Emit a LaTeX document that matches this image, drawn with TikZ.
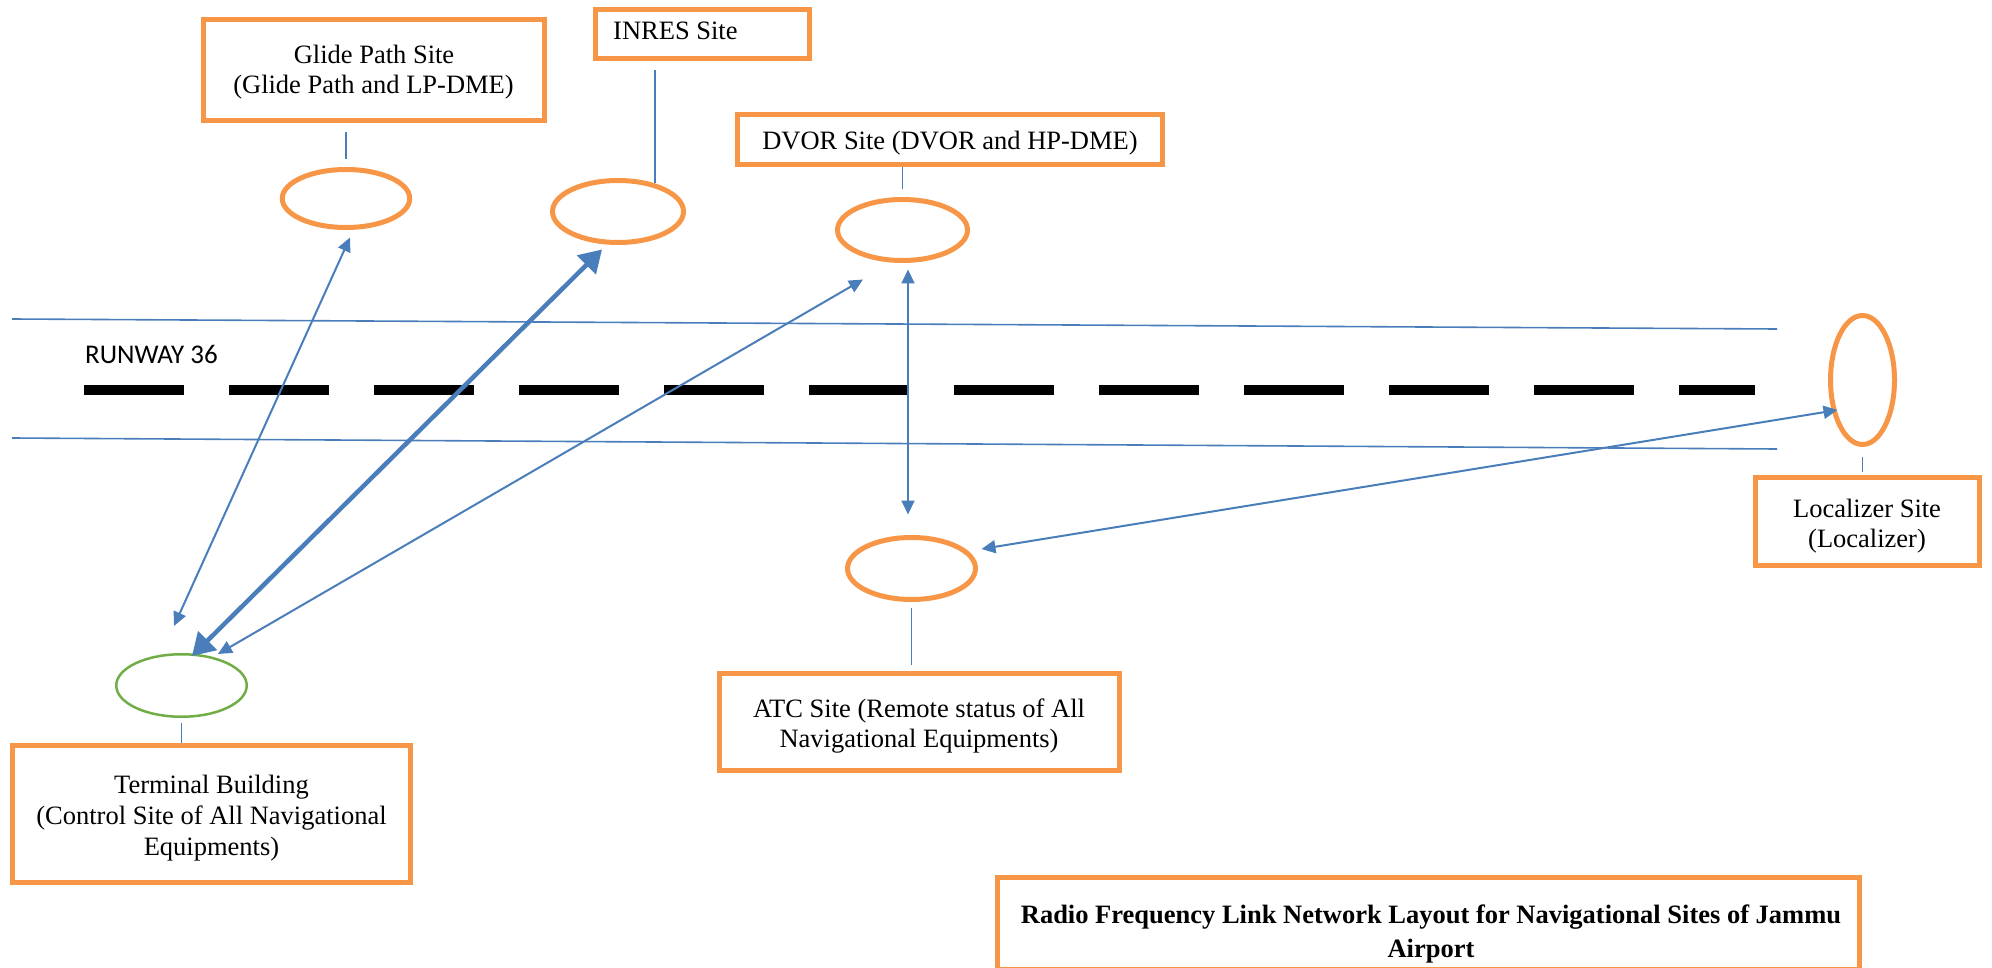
\documentclass[tikz,border=0pt]{standalone}
\usepackage{fontspec}
\setmainfont{Liberation Serif}
\newfontfamily\rwfont{Carlito}
\usetikzlibrary{shapes.geometric,arrows.meta,calc}
\definecolor{siteorange}{HTML}{F79646}
\definecolor{linkblue}{HTML}{4A7EBB}
\definecolor{termgreen}{HTML}{70AD47}
\begin{document}
\begin{tikzpicture}[x=1pt,y=-1pt,
  sitebox/.style={draw=siteorange, line width=5pt, rectangle, inner sep=0pt},
  siteell/.style={draw=siteorange, line width=5pt, ellipse, inner sep=0pt},
  termell/.style={draw=termgreen, line width=2.5pt, ellipse, inner sep=0pt},
  tick/.style={draw=linkblue, line width=1.5pt},
  rwedge/.style={draw=linkblue, line width=1.6pt},
  link/.style={draw=linkblue, line width=2pt, {Triangle[length=14pt,width=13pt]}-{Triangle[length=14pt,width=13pt]}},
  biglink/.style={draw=linkblue, line width=4.5pt, {Triangle[length=22pt,width=26pt]}-{Triangle[length=22pt,width=26pt]}},
  txt/.style={font=\fontsize{26.5}{30}\selectfont, inner sep=0pt, anchor=base},
  titletxt/.style={font=\bfseries\fontsize{26.5}{34}\selectfont, inner sep=0pt, anchor=base},
]
\useasboundingbox (0,0) rectangle (1992,968);

% runway
\draw[rwedge] (12,319) -- (1777,329);
\draw[rwedge] (12,438) -- (1777,449);
\draw[black, line width=10pt, dash pattern=on 100pt off 45pt] (84,390) -- (1755,390);
\node[font=\rwfont\fontsize{27}{30}\selectfont, inner sep=0pt, anchor=base west] (rwlabel) at (85,363) {RUNWAY 36};

% boxes
\node[sitebox, minimum width=341.3pt, minimum height=101.3pt] (gpbox) at (373.85,69.85) {};
\node[sitebox, minimum width=214.5pt, minimum height=49pt] (inbox) at (702.25,34) {};
\node[sitebox, minimum width=425pt, minimum height=50pt] (dvbox) at (950,139.5) {};
\node[sitebox, minimum width=224pt, minimum height=88pt] (lzbox) at (1867.5,521.5) {};
\node[sitebox, minimum width=398pt, minimum height=137pt] (tbbox) at (211.5,814) {};
\node[sitebox, minimum width=400pt, minimum height=97pt] (atcbox) at (919.5,722) {};
\node[sitebox, minimum width=862pt, minimum height=91.5pt] (titlebox) at (1428.5,923.25) {};

% box texts
\node[txt] (gpt1) at (374,64) {Glide Path Site};
\node[txt] (gpt2) at (373.5,94) {(Glide Path and LP-DME)};
\node[txt, anchor=base west] (int1) at (613,40) {INRES Site};
\node[txt] (dvt1) at (950,150) {DVOR Site (DVOR and HP-DME)};
\node[txt] (lzt1) at (1867,517) {Localizer Site};
\node[txt] (lzt2) at (1867,547) {(Localizer)};
\node[txt] (tbt1) at (211.5,793) {Terminal Building};
\node[txt] (tbt2) at (211.5,824) {(Control Site of All Navigational};
\node[txt] (tbt3) at (211.5,855) {Equipments)};
\node[txt] (atct1) at (919,717) {ATC Site (Remote status of All};
\node[txt] (atct2) at (919,747) {Navigational Equipments)};
\node[titletxt] (tt1) at (1431,923) {Radio Frequency Link Network Layout for Navigational Sites of Jammu};
\node[titletxt] (tt2) at (1431,957) {Airport};

% ellipses
\node[siteell, minimum width=127.5pt, minimum height=58pt] (gpell) at (346,198.5) {};
\node[siteell, minimum width=131pt, minimum height=62pt] (inell) at (618,211.5) {};
\node[siteell, minimum width=130pt, minimum height=61pt] (dvell) at (902.5,230) {};
\node[siteell, minimum width=128pt, minimum height=62pt] (atcell) at (911.5,568.5) {};
\node[siteell, minimum width=64pt, minimum height=129pt] (lzell) at (1862.5,380) {};
\node[termell, minimum width=130.5pt, minimum height=62.5pt] (tbell) at (181.5,685.5) {};

% ticks between boxes and ellipses
\draw[tick, shorten <=7.5pt, shorten >=9.5pt] (gpell.north) -- (gpell.north |- gpbox.south);
\draw[tick, shorten >=9.5pt] (inell.37) -- (inell.37 |- inbox.south);
\draw[tick, shorten <=7.5pt] (dvell.north) -- (dvell.north |- dvbox.south);
\draw[tick, shorten <=9.5pt, shorten >=3.5pt] (lzell.south) -- (lzell.south |- lzbox.north);
\draw[tick, shorten <=5pt] (tbell.south) -- (tbell.south |- tbbox.north);
\draw[tick, shorten <=5.5pt, shorten >=6.5pt] (atcell.south) -- (atcell.south |- atcbox.north);

% radio links
\draw[link] ($(gpell.south)+(4,7.5)$) -- ($(tbell.north)+(-7.5,-27)$);
\draw[biglink] ($(inell.south)+(-16,4.5)$) -- ($(tbell.north)+(10.5,3)$);
\draw[link] ($(dvell.south)+(-39.5,16.5)$) -- ($(tbell.north)+(36.5,1)$);
\draw[link] ($(dvell.south)+(5.5,6.5)$) -- ($(atcell.north)+(-3.5,-20.5)$);
\draw[link] ($(lzell.west)+(9.5,30)$) -- ($(atcell.east)+(3.5,-19.5)$);
\end{tikzpicture}
\end{document}
